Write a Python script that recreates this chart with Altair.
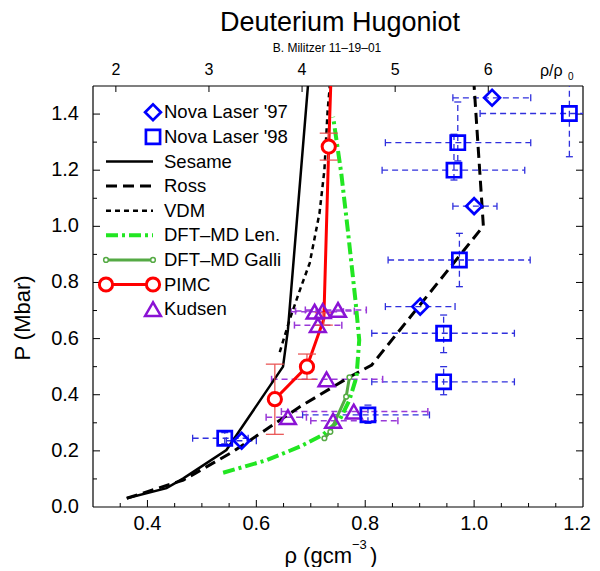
import altair as alt
import pandas as pd

# ---------------- data ----------------
sesame_rho = [0.362, 0.435, 0.466, 0.545, 0.649, 0.658, 0.699]
sesame_p = [0.031, 0.067, 0.102, 0.203, 0.500, 0.631, 1.600]

ross_rho = [0.362, 0.466, 0.557, 0.680, 0.771, 0.812, 1.017, 1.000, 0.996]
ross_p = [0.031, 0.096, 0.197, 0.357, 0.463, 0.506, 1.001, 1.500, 1.600]

vdm_rho = [0.643, 0.661, 0.680, 0.698, 0.716, 0.725, 0.731, 0.735, 0.737]
vdm_p = [0.552, 0.666, 0.773, 0.869, 1.047, 1.200, 1.414, 1.500, 1.600]

len_rho = [0.539, 0.619, 0.680, 0.722, 0.753, 0.771, 0.784, 0.789, 0.782, 0.768, 0.756, 0.741]
len_p = [0.122, 0.167, 0.215, 0.257, 0.310, 0.381, 0.464, 0.595, 0.737, 0.987, 1.189, 1.390]

galli_rho = [0.725, 0.736, 0.765, 0.771]
galli_p = [0.245, 0.268, 0.393, 0.462]

pimc_rho = [0.634, 0.693, 0.724, 0.733, 0.740]
pimc_p = [0.384, 0.500, 0.670, 1.284, 1.700]
pimc_err = [0.125, 0.045, 0.022, 0.048, 0.0]
pimc_marker = [True, True, False, True, False]

kud_rho = [0.707, 0.722, 0.750, 0.713, 0.729, 0.658, 0.741, 0.779]
kud_p = [0.696, 0.698, 0.702, 0.648, 0.455, 0.320, 0.307, 0.340]
kud_lo = [0.664, 0.672, 0.690, 0.670, 0.628, 0.618, 0.700, 0.646]
kud_hi = [0.760, 0.780, 0.802, 0.757, 0.832, 0.692, 0.860, 0.915]

n97_rho = [0.573, 0.901, 1.000, 1.033]
n97_p = [0.236, 0.714, 1.072, 1.458]
n97_lo = [0.545, 0.837, 0.961, 0.961]
n97_hi = [0.600, 0.965, 1.042, 1.104]

n98_rho = [0.542, 0.805, 0.944, 0.944, 0.973, 0.963, 0.970, 1.175]
n98_p = [0.245, 0.328, 0.446, 0.619, 0.880, 1.200, 1.298, 1.402]
n98_xlo = [0.483, 0.685, 0.812, 0.812, 0.842, 0.831, 0.837, 1.011]
n98_xhi = [0.585, 0.918, 1.074, 1.074, 1.103, 1.093, 1.104, 1.330]
n98_ylo = [0.225, 0.298, 0.400, 0.550, 0.785, 1.165, 1.233, 1.248]
n98_yhi = [0.265, 0.363, 0.500, 0.684, 0.975, 1.328, 1.443, 1.556]

rho0 = 0.171
top_ticks = [2, 3, 4, 5, 6]
x_labels = [0.4, 0.6, 0.8, 1.0, 1.2]
y_labels = [0.0, 0.2, 0.4, 0.6, 0.8, 1.0, 1.2, 1.4]

legend_names = ["Nova Laser '97", "Nova Laser '98", "Sesame", "Ross", "VDM",
                "DFT\u2013MD Len.", "DFT\u2013MD Galli", "PIMC", "Kudsen"]

# ---------------- layout / style ----------------
W, H = 490, 421
X0, X1, Y0, Y1 = 0.3, 1.2, 0.0, 1.5
PXX = W / (X1 - X0)
PXY = H / (Y1 - Y0)
FONT = "Liberation Sans"
BLUE = "#0000ff"
BLUEBAR = "#3030dd"
PURPLE = "#8a12d4"
PURPLEBAR = "#9a3ad8"
RED = "#ff0000"
REDBAR = "#e84a4a"
GREEN = "#22e622"
GALLI = "#55aa44"

xs = alt.Scale(domain=[X0, X1], nice=False, zero=False)
ys = alt.Scale(domain=[Y0, Y1], nice=False, zero=False)


def xq(f="x"):
    return alt.X(f + ":Q", scale=xs, axis=None)


def yq(f="y"):
    return alt.Y(f + ":Q", scale=ys, axis=None)


def dx(p):
    """pixel offset from plot left -> data x"""
    return X0 + p / PXX


def dy(p):
    """pixel offset from plot top -> data y"""
    return Y1 - p / PXY


def rules(rows, color, width, dash=None, clip=False):
    kw = dict(color=color, strokeWidth=width, clip=clip)
    if dash:
        kw["strokeDash"] = dash
    return alt.Chart(pd.DataFrame(rows)).mark_rule(**kw).encode(
        x=xq(), x2="x2:Q", y=yq(), y2="y2:Q")


layers = []

# ---- frame ----
frame_rows = [
    {"x": X0, "x2": X1, "y": Y0, "y2": Y0},
    {"x": X0, "x2": X1, "y": Y1, "y2": Y1},
    {"x": X0, "x2": X0, "y": Y0, "y2": Y1},
    {"x": X1, "x2": X1, "y": Y0, "y2": Y1},
]
layers.append(rules(frame_rows, "black", 1.2))


# ---- inward ticks ----
def r2(v):
    return round(v, 3)


y_major = [r2(0.2 * i) for i in range(1, 8)]
y_minor = [r2(0.1 + 0.2 * i) for i in range(0, 7)]
x_all = [r2(0.35 + 0.05 * i) for i in range(0, 17)]
x_major = [v for v in x_all if abs(round(v / 0.2) * 0.2 - v) < 1e-6]
x_minor = [v for v in x_all if v not in x_major]
tick_rows = []
for v, L in [(v, 7) for v in y_major] + [(v, 4) for v in y_minor]:
    tick_rows.append({"x": X0, "x2": X0 + L / PXX, "y": v, "y2": v})
    tick_rows.append({"x": X1 - L / PXX, "x2": X1, "y": v, "y2": v})
for v, L in [(v, 7) for v in x_major] + [(v, 4) for v in x_minor]:
    tick_rows.append({"x": v, "x2": v, "y": Y0, "y2": Y0 + L / PXY})
for n in top_ticks:
    tick_rows.append({"x": n * rho0, "x2": n * rho0, "y": Y1 - 6 / PXY, "y2": Y1})
layers.append(rules(tick_rows, "black", 1))

# ---- tick labels (as text) ----
FS_TICK = 20
xl = pd.DataFrame({"x": x_labels[:-1], "y": [dy(H + 22.5)] * (len(x_labels) - 1),
                   "t": [f"{v:.1f}" for v in x_labels[:-1]]})
layers.append(alt.Chart(xl).mark_text(font=FONT, fontSize=FS_TICK, color="black", align="center",
                                      baseline="alphabetic").encode(x=xq(), y=yq(), text="t:N"))
# last label kept inside the page edge
xl_last = pd.DataFrame({"x": [dx(W + 8)], "y": [dy(H + 22.5)], "t": [f"{x_labels[-1]:.1f}"]})
layers.append(alt.Chart(xl_last).mark_text(font=FONT, fontSize=FS_TICK, color="black", align="right",
                                           baseline="alphabetic").encode(x=xq(), y=yq(), text="t:N"))
yl = pd.DataFrame({"x": [dx(-14)] * len(y_labels), "y": y_labels,
                   "t": [f"{v:.1f}" for v in y_labels]})
layers.append(alt.Chart(yl).mark_text(font=FONT, fontSize=FS_TICK, color="black", align="right",
                                      baseline="middle").encode(x=xq(), y=yq(), text="t:N"))
top = pd.DataFrame({"x": [n * rho0 for n in top_ticks], "y": [dy(-11)] * len(top_ticks),
                    "t": [str(n) for n in top_ticks]})
layers.append(alt.Chart(top).mark_text(font=FONT, fontSize=16, color="black", align="center",
                                       baseline="alphabetic").encode(x=xq(), y=yq(), text="t:N"))

# ---- Nova error bars ----
n98 = pd.DataFrame({"x": n98_rho, "y": n98_p, "xlo": n98_xlo, "xhi": n98_xhi,
                    "ylo": n98_ylo, "yhi": n98_yhi})
layers.append(alt.Chart(n98).mark_rule(color=BLUEBAR, strokeWidth=1.3, strokeDash=[6, 4], clip=True).encode(
    x=xq("xlo"), x2="xhi:Q", y=yq()))
layers.append(alt.Chart(n98).mark_rule(color=BLUEBAR, strokeWidth=1.3, strokeDash=[6, 4], clip=True).encode(
    x=xq(), y=yq("ylo"), y2="yhi:Q"))
cap_rows = []
for r in n98.itertuples():
    for xe in (r.xlo, r.xhi):
        cap_rows.append({"x": xe, "x2": xe, "y": r.y - 3.5 / PXY, "y2": r.y + 3.5 / PXY})
    for ye in (r.ylo, r.yhi):
        cap_rows.append({"x": r.x - 3.5 / PXX, "x2": r.x + 3.5 / PXX, "y": ye, "y2": ye})
n97 = pd.DataFrame({"x": n97_rho, "y": n97_p, "xlo": n97_lo, "xhi": n97_hi})
layers.append(alt.Chart(n97).mark_rule(color=BLUEBAR, strokeWidth=1.3, strokeDash=[6, 4], clip=True).encode(
    x=xq("xlo"), x2="xhi:Q", y=yq()))
for r in n97.itertuples():
    for xe in (r.xlo, r.xhi):
        cap_rows.append({"x": xe, "x2": xe, "y": r.y - 3.5 / PXY, "y2": r.y + 3.5 / PXY})
layers.append(rules(cap_rows, BLUEBAR, 1.3, clip=True))

# ---- Kudsen error bars ----
kud = pd.DataFrame({"x": kud_rho, "y": kud_p, "xlo": kud_lo, "xhi": kud_hi})
layers.append(alt.Chart(kud).mark_rule(color=PURPLEBAR, strokeWidth=1.5, strokeDash=[6, 4], clip=True).encode(
    x=xq("xlo"), x2="xhi:Q", y=yq()))
kcap = []
for r in kud.itertuples():
    for xe in (r.xlo, r.xhi):
        kcap.append({"x": xe, "x2": xe, "y": r.y - 3.5 / PXY, "y2": r.y + 3.5 / PXY})
layers.append(rules(kcap, PURPLEBAR, 1.5, clip=True))


# ---- curves ----
def curve(xv, yv, color, width, dash=None, clip=True):
    d = pd.DataFrame({"x": xv, "y": yv, "o": list(range(len(xv)))})
    kw = dict(color=color, strokeWidth=width, clip=clip)
    if dash:
        kw["strokeDash"] = dash
    return alt.Chart(d).mark_line(**kw).encode(x=xq(), y=yq(), order="o:Q")


layers.append(curve(sesame_rho, sesame_p, "black", 2.5))
layers.append(curve(ross_rho, ross_p, "black", 3, [11, 6]))
layers.append(curve(vdm_rho, vdm_p, "black", 2.5, [5, 4]))
layers.append(curve(len_rho, len_p, GREEN, 4, [12, 4, 3, 4]))
layers.append(curve(galli_rho, galli_p, GALLI, 3))
galli = pd.DataFrame({"x": galli_rho, "y": galli_p})
layers.append(alt.Chart(galli).mark_point(shape="circle", size=22, color=GALLI, strokeWidth=1.5,
                                          fill="white", fillOpacity=1).encode(x=xq(), y=yq()))

# ---- PIMC ----
layers.append(curve(pimc_rho, pimc_p, RED, 3))
pimc = pd.DataFrame({"x": pimc_rho, "y": pimc_p, "e": pimc_err, "m": pimc_marker})
pimc_b = pimc[pimc["e"] > 0].copy()
pimc_b["ylo"] = pimc_b["y"] - pimc_b["e"]
pimc_b["yhi"] = pimc_b["y"] + pimc_b["e"]
layers.append(alt.Chart(pimc_b).mark_rule(color=REDBAR, strokeWidth=1.2, clip=True).encode(
    x=xq(), y=yq("ylo"), y2="yhi:Q"))
pcap = []
for r in pimc_b.itertuples():
    for ye in (r.ylo, r.yhi):
        pcap.append({"x": r.x - 9 / PXX, "x2": r.x + 9 / PXX, "y": ye, "y2": ye})
layers.append(rules(pcap, REDBAR, 1.2, clip=True))
layers.append(alt.Chart(pimc[pimc["m"]]).mark_point(shape="circle", size=175, color=RED, strokeWidth=3,
                                                    fill="white", fillOpacity=1, opacity=1).encode(x=xq(), y=yq()))

# ---- Kudsen markers ----
layers.append(alt.Chart(kud).mark_point(shape="triangle-up", size=250, color=PURPLE, strokeWidth=2.5,
                                        filled=False, opacity=1).encode(x=xq(), y=yq()))

# ---- Nova markers ----
layers.append(alt.Chart(n98).mark_point(shape="square", size=200, color=BLUE, strokeWidth=2.7,
                                        filled=False, clip=True, opacity=1).encode(x=xq(), y=yq()))
layers.append(alt.Chart(n97).mark_point(shape="diamond", size=250, color=BLUE, strokeWidth=2.7,
                                        filled=False, opacity=1).encode(x=xq(), y=yq()))

# ---------------- legend (positions given in plot pixels, converted) ----------------
LY0, LDY = 26.3, 24.6
LX1, LX2, LXT = 13, 60, 71


def ly(i):
    return dy(LY0 + LDY * i)


def leg_line(i, color, width, dash=None):
    return curve([dx(LX1), dx(LX2)], [ly(i), ly(i)], color, width, dash, clip=False)


def leg_pts(pxs, i, **kw):
    d = pd.DataFrame({"x": [dx(p) for p in pxs], "y": [ly(i)] * len(pxs)})
    return alt.Chart(d).mark_point(**kw).encode(x=xq(), y=yq())


layers.append(leg_pts([LX2], 0, shape="diamond", size=250, color=BLUE, strokeWidth=2.7, filled=False, opacity=1))
layers.append(leg_pts([LX2], 1, shape="square", size=200, color=BLUE, strokeWidth=2.7, filled=False, opacity=1))
layers.append(leg_line(2, "black", 2.5))
layers.append(leg_line(3, "black", 3, [11, 6]))
layers.append(leg_line(4, "black", 2.5, [5, 4]))
layers.append(leg_line(5, GREEN, 4, [12, 4, 3, 4]))
layers.append(leg_line(6, GALLI, 3))
layers.append(leg_pts([LX1, LX2], 6, shape="circle", size=22, color=GALLI, strokeWidth=1.5,
                      fill="white", fillOpacity=1))
layers.append(leg_line(7, RED, 3))
layers.append(leg_pts([LX1, LX2], 7, shape="circle", size=175, color=RED, strokeWidth=3,
                      fill="white", fillOpacity=1, opacity=1))
layers.append(leg_pts([LX2], 8, shape="triangle-up", size=250, color=PURPLE, strokeWidth=2.5, filled=False,
                      opacity=1))
leg_txt = pd.DataFrame({"x": [dx(LXT)] * len(legend_names), "y": [ly(i) for i in range(len(legend_names))],
                        "t": legend_names})
layers.append(alt.Chart(leg_txt).mark_text(align="left", baseline="middle", font=FONT, fontSize=18.5,
                                           color="black").encode(x=xq(), y=yq(), text="t:N"))


# ---------------- titles and extra text ----------------
def label(text, x, y, size, align="center", baseline="alphabetic", angle=0):
    d = pd.DataFrame({"x": [dx(x)], "y": [dy(y)], "t": [text]})
    kw = dict(align=align, baseline=baseline, font=FONT, fontSize=size, color="black")
    if angle:
        kw["angle"] = angle
    return alt.Chart(d).mark_text(**kw).encode(x=xq(), y=yq(), text="t:N")


layers.append(label("Deuterium Hugoniot", 247, -55, 27))
layers.append(label("B. Militzer 11\u201319\u201301", 234, -34, 12))
layers.append(label("\u03c1/\u03c1", 447, -10, 16, align="left"))
layers.append(label("0", 475, -6, 10, align="left"))
layers.append(label("\u03c1 (gcm", 259, 477, 22, align="right"))
layers.append(label("\u22123", 259, 463, 13, align="left"))
layers.append(label(")", 277, 477, 22, align="left"))
layers.append(label("P (Mbar)", -70, 232, 22, baseline="middle", angle=270))

chart = alt.layer(*layers).properties(
    width=W, height=H,
    padding={"left": 85, "top": 78, "right": 9, "bottom": 60},
    autosize=alt.AutoSizeParams(type="none"),
).configure_view(stroke=None)

chart.save("out.html", embed_options={"renderer": "svg", "actions": False})
